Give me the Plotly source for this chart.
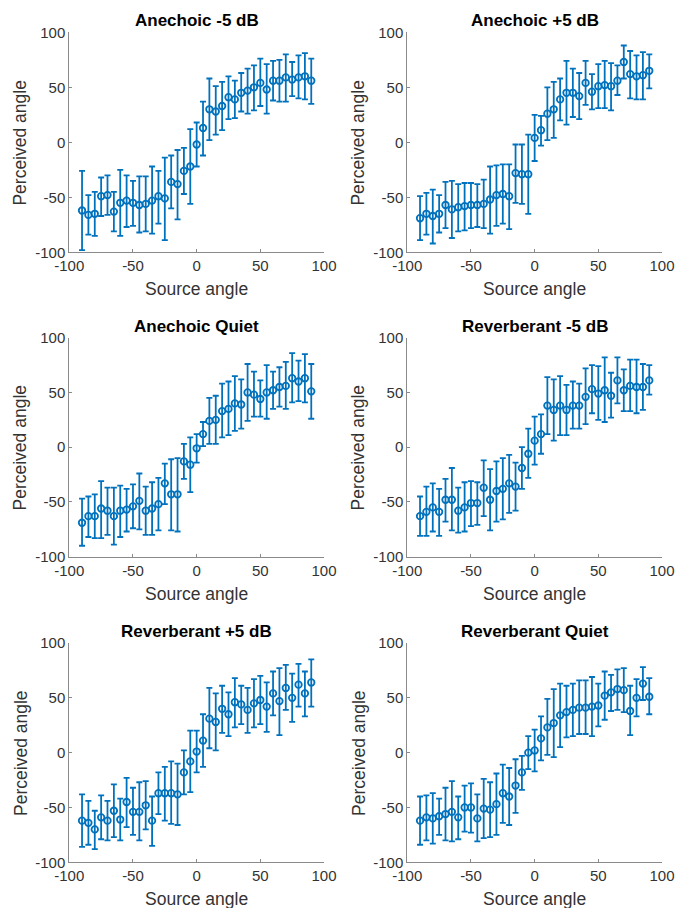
import plotly.graph_objects as go

source_angle = list(range(-90, 95, 5))

titles = ["Anechoic -5 dB", "Anechoic +5 dB", "Anechoic Quiet",
          "Reverberant -5 dB", "Reverberant +5 dB", "Reverberant Quiet"]

# Anechoic -5 dB
an_m5_mean = [-62, -66, -65, -49, -48, -63, -55, -53, -55, -57, -56, -53, -49, -51, -36, -38, -26, -22,
              -2, 13, 30, 28, 33, 41, 39, 45, 47, 50, 54, 48, 56, 56, 59, 57, 59, 60, 56]
an_m5_hi = [-26, -48, -45, -32, -30, -45, -25, -30, -35, -31, -31, -22, -26, -14, -12, -7, -5, 12,
            18, 37, 58, 51, 55, 60, 56, 63, 67, 70, 76, 71, 74, 75, 80, 73, 79, 81, 76]
an_m5_lo = [-98, -84, -85, -67, -66, -81, -85, -77, -76, -82, -81, -83, -74, -89, -60, -70, -47, -56,
            -22, -12, 2, 7, 11, 21, 22, 28, 26, 29, 33, 26, 38, 37, 37, 42, 40, 39, 35]

# Anechoic +5 dB
an_p5_mean = [-69, -65, -67, -65, -57, -61, -59, -58, -57, -57, -56, -52, -48, -47, -49, -28, -29, -29,
              4, 11, 26, 30, 39, 45, 45, 42, 54, 46, 51, 52, 51, 56, 73, 62, 60, 61, 65]
an_p5_hi = [-49, -46, -43, -48, -36, -35, -38, -37, -37, -38, -34, -22, -21, -20, -20, -2, -2, 7,
            25, 24, 50, 55, 58, 74, 67, 63, 74, 62, 71, 74, 72, 70, 88, 83, 79, 82, 80]
an_p5_lo = [-89, -84, -92, -82, -78, -87, -81, -80, -78, -77, -78, -83, -76, -74, -79, -55, -56, -65,
            -17, -3, 2, 4, 20, 16, 23, 21, 34, 30, 31, 31, 29, 43, 58, 40, 39, 39, 49]

# Anechoic Quiet
an_q_mean = [-69, -63, -63, -56, -58, -63, -58, -57, -54, -49, -58, -56, -52, -33, -43, -43, -13, -16,
             -1, 12, 24, 25, 33, 35, 40, 39, 50, 48, 44, 50, 52, 55, 56, 63, 60, 63, 51]
an_q_hi = [-47, -45, -43, -31, -37, -37, -35, -38, -34, -24, -36, -32, -28, -15, -11, -10, 3, 9,
           12, 23, 45, 47, 58, 60, 65, 62, 76, 69, 61, 75, 69, 73, 78, 86, 79, 85, 76]
an_q_lo = [-90, -82, -83, -83, -80, -89, -82, -77, -74, -75, -80, -80, -76, -52, -76, -77, -29, -41,
           -14, 1, 3, 3, 9, 11, 15, 17, 24, 28, 28, 26, 35, 37, 35, 41, 42, 41, 26]

# Reverberant -5 dB
rv_m5_mean = [-63, -59, -55, -59, -48, -48, -58, -55, -51, -51, -37, -48, -40, -38, -33, -36, -19, -6,
              6, 12, 38, 34, 38, 34, 38, 38, 46, 53, 49, 52, 47, 61, 52, 56, 55, 55, 61]
rv_m5_hi = [-45, -36, -33, -38, -29, -19, -37, -32, -31, -32, -12, -20, -13, -10, -7, -14, 0, 17,
            28, 30, 64, 62, 65, 57, 60, 58, 72, 75, 74, 82, 68, 82, 71, 80, 80, 76, 75]
rv_m5_lo = [-81, -81, -77, -81, -68, -76, -78, -77, -72, -71, -63, -76, -68, -66, -60, -58, -38, -28,
            -16, -6, 12, 6, 11, 11, 17, 17, 21, 31, 25, 23, 27, 40, 33, 33, 31, 34, 48]

# Reverberant +5 dB
rv_p5_mean = [-62, -64, -70, -59, -62, -53, -61, -45, -54, -54, -48, -62, -37, -37, -37, -38, -18, -8,
              1, 11, 31, 28, 40, 35, 46, 44, 39, 45, 48, 42, 54, 47, 59, 50, 62, 54, 64]
rv_p5_hi = [-38, -44, -53, -39, -44, -29, -42, -23, -32, -27, -26, -40, -18, -13, -8, -10, 2, 20,
            20, 35, 59, 54, 61, 55, 68, 61, 59, 67, 70, 64, 74, 77, 80, 72, 81, 74, 85]
rv_p5_lo = [-86, -84, -88, -79, -80, -77, -80, -68, -75, -80, -70, -85, -56, -62, -65, -66, -38, -36,
            -18, -13, 4, 2, 18, 15, 23, 26, 18, 23, 26, 19, 34, 16, 39, 28, 42, 33, 42]

# Reverberant Quiet
rv_q_mean = [-62, -59, -60, -58, -56, -54, -59, -50, -50, -60, -51, -52, -47, -37, -40, -30, -18, 0,
             2, 13, 23, 27, 34, 37, 39, 41, 41, 42, 43, 52, 55, 58, 57, 38, 50, 63, 51]
rv_q_hi = [-40, -39, -37, -42, -32, -26, -40, -30, -28, -38, -24, -27, -19, -11, -14, -6, -3, 15,
           21, 33, 49, 58, 63, 61, 63, 66, 66, 69, 63, 74, 71, 76, 77, 61, 67, 78, 68]
rv_q_lo = [-84, -80, -83, -75, -80, -81, -79, -72, -73, -81, -78, -77, -75, -64, -66, -55, -34, -15,
           -17, -7, -2, -4, 5, 14, 15, 17, 17, 15, 24, 30, 38, 39, 37, 16, 33, 48, 35]

panels = [
    (an_m5_mean, an_m5_hi, an_m5_lo),
    (an_p5_mean, an_p5_hi, an_p5_lo),
    (an_q_mean, an_q_hi, an_q_lo),
    (rv_m5_mean, rv_m5_hi, rv_m5_lo),
    (rv_p5_mean, rv_p5_hi, rv_p5_lo),
    (rv_q_mean, rv_q_hi, rv_q_lo),
]

axis_ticks = [-100, -50, 0, 50, 100]

W, H = 676, 908
col_px = [(69.3, 324.0), (407.3, 662.0)]
row_px = [(32.3, 252.3), (337.7, 556.7), (643.0, 862.3)]

BLUE = "#0072BD"
FONT = "Liberation Sans, Arial, sans-serif"

fig = go.Figure()
annotations = []

for i, (mean, hi, lo) in enumerate(panels):
    r, c = divmod(i, 2)
    n = i + 1
    xa = "x" if n == 1 else f"x{n}"
    ya = "y" if n == 1 else f"y{n}"
    err_plus = [h - m for h, m in zip(hi, mean)]
    err_minus = [m - l for m, l in zip(mean, lo)]
    fig.add_trace(go.Scatter(
        x=source_angle, y=mean, mode="markers", xaxis=xa, yaxis=ya,
        marker=dict(symbol="circle-open", size=6.5, color=BLUE, line=dict(width=1.8, color=BLUE)),
        error_y=dict(type="data", symmetric=False, array=err_plus, arrayminus=err_minus,
                     color=BLUE, thickness=1.8, width=3),
        showlegend=False, hoverinfo="x+y",
    ))
    x0, x1 = col_px[c]
    yt, yb = row_px[r]
    xdom = [x0 / W, x1 / W]
    ydom = [1 - yb / H, 1 - yt / H]
    axcommon = dict(
        showgrid=False, zeroline=False, showline=True, linecolor="#8a8a8a", linewidth=1,
        ticks="inside", ticklen=3, tickcolor="#8a8a8a", tickwidth=1,
        tickvals=axis_ticks, ticktext=[str(v) for v in axis_ticks],
        tickfont=dict(family=FONT, size=15, color="#333333"),
        range=[-100, 100], automargin=False, mirror=False,
    )
    xkey = "xaxis" if n == 1 else f"xaxis{n}"
    ykey = "yaxis" if n == 1 else f"yaxis{n}"
    fig.update_layout({
        xkey: dict(domain=xdom, anchor=ya, **axcommon),
        ykey: dict(domain=ydom, anchor=xa, **axcommon),
    })
    xc = (xdom[0] + xdom[1]) / 2
    annotations.append(dict(text=f"<b>{titles[i]}</b>", x=xc, y=ydom[1], xref="paper", yref="paper",
                            xanchor="center", yanchor="bottom", yshift=0, showarrow=False,
                            font=dict(family=FONT, size=17, color="#000000")))
    annotations.append(dict(text="Source angle", x=xc, y=ydom[0], xref="paper", yref="paper",
                            xanchor="center", yanchor="middle", yshift=-37, showarrow=False,
                            font=dict(family=FONT, size=17.5, color="#333333")))
    annotations.append(dict(text="Perceived angle", x=xdom[0], y=(ydom[0] + ydom[1]) / 2,
                            xref="paper", yref="paper", xanchor="center", yanchor="middle",
                            xshift=-49, textangle=-90, showarrow=False,
                            font=dict(family=FONT, size=17.5, color="#333333")))

fig.update_layout(
    width=W, height=H, margin=dict(l=0, r=0, t=0, b=0),
    paper_bgcolor="white", plot_bgcolor="white",
    annotations=annotations,
)

fig.write_html("out.html", config={"displayModeBar": False},
               post_script="document.body.style.margin='0';document.body.style.overflow='hidden';")
